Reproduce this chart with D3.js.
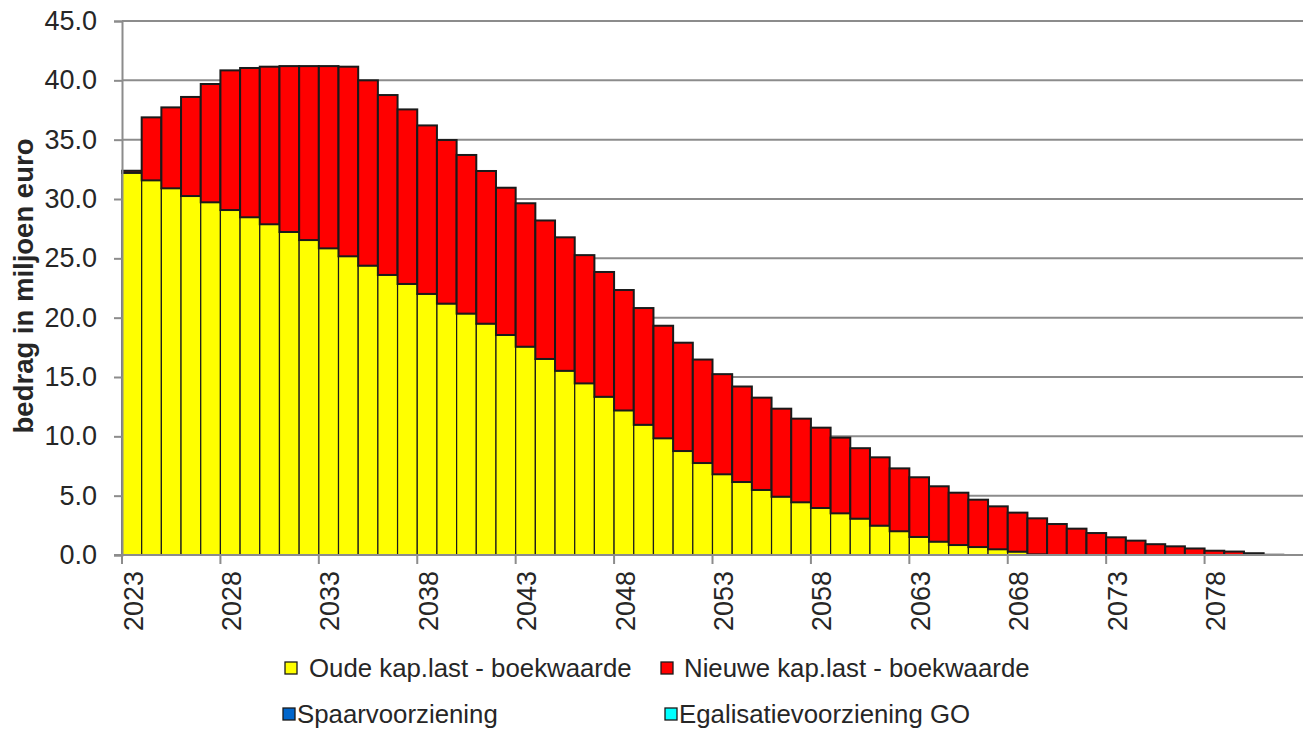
<!DOCTYPE html>
<html>
<head>
<meta charset="utf-8">
<script src="https://cdn.jsdelivr.net/npm/d3@7"></script>
<style>
  html, body { margin: 0; padding: 0; background: #fff; }
  svg { display: block; font-family: "Liberation Sans", Arial, sans-serif; }
</style>
</head>
<body>
<svg id="chart" width="1303" height="729"></svg>
<script>
// ---- data ----
const years = d3.range(2023, 2083);
const oudeKapLast = [
  32.2, 31.57, 30.9, 30.25, 29.72, 29.07, 28.46, 27.87, 27.22, 26.54,
  25.84, 25.17, 24.38, 23.6, 22.84, 22.0, 21.18, 20.34, 19.49, 18.54,
  17.55, 16.52, 15.52, 14.46, 13.33, 12.18, 10.97, 9.83, 8.76, 7.75,
  6.8, 6.15, 5.48, 4.91, 4.44, 3.96, 3.51, 3.06, 2.47, 2.0,
  1.52, 1.12, 0.84, 0.67, 0.48, 0.28, 0.05, 0, 0, 0,
  0, 0, 0, 0, 0, 0, 0, 0, 0, 0
];
const nieuweKapLast = [
  0.18, 5.31, 6.82, 8.35, 9.97, 11.77, 12.58, 13.28, 13.98, 14.66,
  15.36, 15.98, 15.62, 15.16, 14.71, 14.2, 13.79, 13.37, 12.87, 12.41,
  12.09, 11.67, 11.25, 10.81, 10.52, 10.15, 9.84, 9.49, 9.13, 8.72,
  8.44, 8.05, 7.78, 7.42, 7.05, 6.77, 6.38, 5.94, 5.76, 5.3,
  5.03, 4.67, 4.41, 3.99, 3.62, 3.29, 3.04, 2.61, 2.22, 1.85,
  1.49, 1.21, 0.91, 0.73, 0.55, 0.36, 0.29, 0.15, 0.02, 0
];
const spaarvoorziening = years.map(() => 0);
const egalisatieGO = years.map(() => 0);
const yTicks = [0, 5, 10, 15, 20, 25, 30, 35, 40, 45];
const xTickYears = [2023, 2028, 2033, 2038, 2043, 2048, 2053, 2058, 2063, 2068, 2073, 2078];
const seriesNames = ["Oude kap.last - boekwaarde", "Nieuwe kap.last - boekwaarde", "Spaarvoorziening", "Egalisatievoorziening GO"];
const seriesColors = ["#ffff00", "#ff0000", "#0066cc", "#00ffff"];
const yTitle = "bedrag in miljoen euro";

// ---- build table ----
const keys = ["oude", "nieuwe", "spaar", "egal"];
const table = years.map((yr, i) => ({
  year: yr, oude: oudeKapLast[i], nieuwe: nieuweKapLast[i],
  spaar: spaarvoorziening[i], egal: egalisatieGO[i]
}));
const stacked = d3.stack().keys(keys)(table);

// ---- layout ----
const svg = d3.select("#chart");
const pLeft = 122, pRight = 1303, pTop = 21, pBottom = 555;
const textColor = "#262626";
const gridColor = "#8c8c8c";

const x = d3.scaleBand().domain(years).range([pLeft, pRight]).padding(0);
const y = d3.scaleLinear().domain([0, 45]).range([pBottom, pTop]);
const bw = x.bandwidth();

// gridlines
svg.append("g").selectAll("line").data(yTicks.filter(d => d > 0)).join("line")
  .attr("x1", pLeft).attr("x2", pRight)
  .attr("y1", d => y(d)).attr("y2", d => y(d))
  .attr("stroke", gridColor).attr("stroke-width", 2);

// bars
const strokeW = [1.2, 2, 1.2, 1.2];
svg.append("g").selectAll("g").data(stacked).join("g")
  .attr("fill", (d, i) => seriesColors[i])
  .each(function(s, si) {
    d3.select(this).selectAll("rect").data(s.filter(d => d[1] - d[0] > 0)).join("rect")
      .attr("x", d => x(d.data.year))
      .attr("width", bw)
      .attr("y", d => y(d[1]))
      .attr("height", d => y(d[0]) - y(d[1]))
      .attr("stroke", "#1a1a1a")
      .attr("stroke-width", strokeW[si]);
  });

// y axis
const yAxis = svg.append("g").attr("transform", `translate(${pLeft},0)`)
  .call(d3.axisLeft(y).tickValues(yTicks).tickFormat(d3.format(".1f")).tickSize(8).tickPadding(17));
yAxis.select(".domain").attr("stroke", gridColor).attr("stroke-width", 2);
yAxis.selectAll(".tick line").attr("stroke", gridColor).attr("stroke-width", 2);
yAxis.selectAll(".tick text").attr("fill", textColor)
  .style("font-size", "27px").style("font-family", "Liberation Sans, Arial, sans-serif");

// x axis
const xAxis = svg.append("g").attr("transform", `translate(0,${pBottom})`)
  .call(d3.axisBottom(x).tickValues(xTickYears).tickSize(9).tickFormat(""));
xAxis.select(".domain").attr("stroke", gridColor).attr("stroke-width", 2)
  .attr("d", `M${pLeft - 8},0H${pRight}`);
xAxis.selectAll(".tick line").attr("stroke", gridColor).attr("stroke-width", 2)
  .attr("x1", -bw / 2).attr("x2", -bw / 2);

svg.append("g").selectAll("text").data(xTickYears).join("text")
  .attr("transform", d => `translate(${x(d) + bw / 2 + 1},571) rotate(-90)`)
  .attr("text-anchor", "end").attr("dy", "0.36em")
  .attr("fill", textColor).style("font-size", "27px")
  .text(d => d);

// y title
svg.append("text")
  .attr("transform", `translate(23,${(pTop + pBottom) / 2 - 2}) rotate(-90)`)
  .attr("text-anchor", "middle").attr("dy", "0.36em")
  .attr("fill", textColor).style("font-size", "27.5px").style("font-weight", "bold")
  .text(yTitle);

// legend
const legendItems = [
  { name: seriesNames[0], color: seriesColors[0], sx: 285, tx: 309, cy: 668 },
  { name: seriesNames[1], color: seriesColors[1], sx: 661, tx: 684, cy: 668 },
  { name: seriesNames[2], color: seriesColors[2], sx: 283, tx: 297, cy: 714 },
  { name: seriesNames[3], color: seriesColors[3], sx: 665, tx: 679, cy: 714 }
];
const lg = svg.append("g").selectAll("g").data(legendItems).join("g");
lg.append("rect")
  .attr("x", d => d.sx).attr("y", d => d.cy - 6)
  .attr("width", 12).attr("height", 12)
  .attr("fill", d => d.color).attr("stroke", "#1a1a1a").attr("stroke-width", 1.3);
lg.append("text")
  .attr("x", d => d.tx).attr("y", d => d.cy).attr("dy", "0.36em")
  .attr("fill", textColor).style("font-size", "25.8px")
  .text(d => d.name);
</script>
</body>
</html>
